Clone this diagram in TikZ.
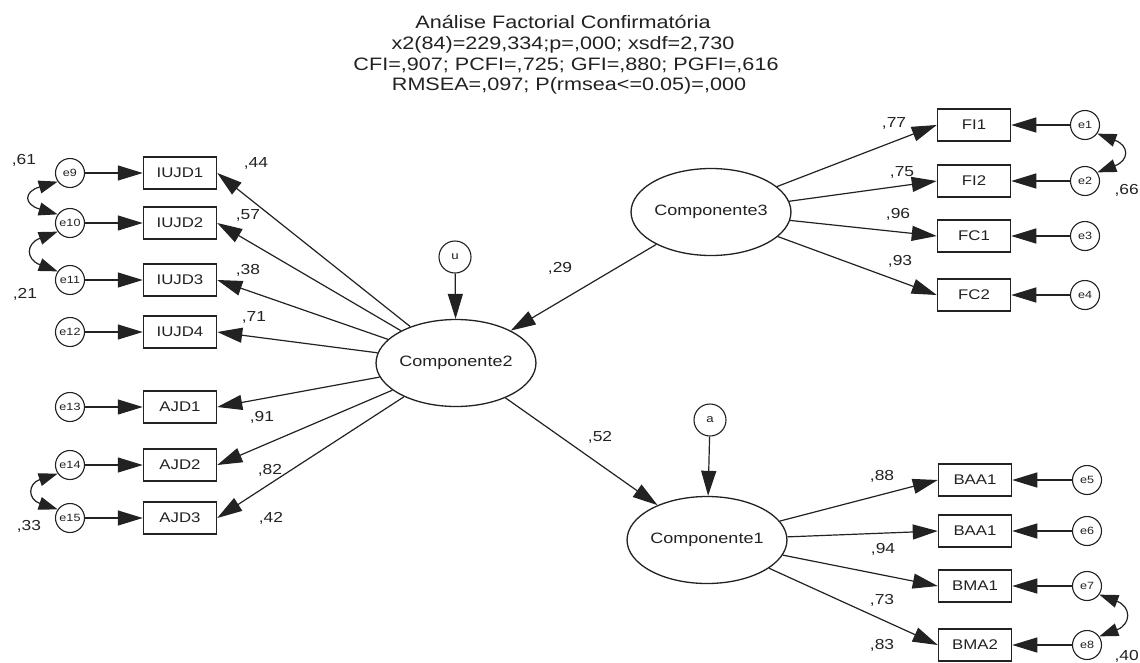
\documentclass[tikz,border=0pt]{standalone}
\usepackage{fontspec}
\setmainfont{Liberation Sans}
\usetikzlibrary{arrows.meta,shapes.geometric}
\newcommand{\tx}[1]{\scalebox{1.2}[1]{#1}}
\definecolor{ink}{HTML}{222222}
\tikzset{
  arr/.style={-{Triangle[length=25pt,width=15pt]}, line width=1.2pt, draw=ink},
  cov/.style={{Triangle[length=19pt,width=13pt]}-{Triangle[length=19pt,width=13pt]}, line width=1.2pt, draw=ink},
  obs/.style={draw=ink, line width=1.5pt, minimum width=73pt, minimum height=32pt, inner sep=0pt, text=ink, font=\fontsize{14}{16}\selectfont},
  err/.style={circle, draw=ink, line width=1.1pt, minimum size=29pt, inner sep=0pt, text=ink, font=\fontsize{10.5}{12}\selectfont},
  dis/.style={circle, draw=ink, line width=1.1pt, minimum size=32pt, inner sep=0pt, text=ink, font=\fontsize{11}{12}\selectfont},
  lat/.style={ellipse, draw=ink, line width=1.3pt, minimum width=150pt, minimum height=87pt, inner sep=0pt, text=ink, font=\fontsize{15}{17}\selectfont},
  lab/.style={inner sep=0pt, text=ink, font=\fontsize{14.5}{16}\selectfont},
  ttl/.style={anchor=base, inner sep=0pt, text=ink, font=\fontsize{18}{20}\selectfont}
}
\begin{document}
\begin{tikzpicture}[x=1pt,y=-1pt]
\useasboundingbox (0,0) rectangle (1140,662);
\fill[white] (0,0) rectangle (1140,662);

% title
\node[ttl] (t1) at (563,28) {\tx{Análise Factorial Confirmatória}};
\node[ttl] (t2) at (563,49) {\tx{x2(84)=229,334;p=,000; xsdf=2,730}};
\node[ttl] (t3) at (566,70) {\tx{CFI=,907; PCFI=,725; GFI=,880; PGFI=,616}};
\node[ttl] (t4) at (569,90) {\tx{RMSEA=,097; P(rmsea<=0.05)=,000}};

% latent variables
\node[lat] (C2) at (456,363) {\tx{Componente2}};
\node[lat] (C3) at (711,212) {\tx{Componente3}};
\node[lat] (C1) at (707,540) {\tx{Componente1}};
\node[dis] (u) at (455,257) {\tx{u}};
\node[dis] (a) at (710,420) {\tx{a}};

% left indicators
\node[obs] (IUJD1) at (180,173) {\tx{IUJD1}};
\node[obs] (IUJD2) at (180,223) {\tx{IUJD2}};
\node[obs] (IUJD3) at (180,280) {\tx{IUJD3}};
\node[obs] (IUJD4) at (180,332) {\tx{IUJD4}};
\node[obs] (AJD1) at (180,407) {\tx{AJD1}};
\node[obs] (AJD2) at (180,465) {\tx{AJD2}};
\node[obs] (AJD3) at (180,518) {\tx{AJD3}};
\node[err] (e9) at (70,173) {\tx{e9}};
\node[err] (e10) at (70,223) {\tx{e10}};
\node[err] (e11) at (70,280) {\tx{e11}};
\node[err] (e12) at (70,332) {\tx{e12}};
\node[err] (e13) at (70,407) {\tx{e13}};
\node[err] (e14) at (70,465) {\tx{e14}};
\node[err] (e15) at (70,518) {\tx{e15}};

% right top indicators
\node[obs] (FI1) at (974,125) {\tx{FI1}};
\node[obs] (FI2) at (974,181) {\tx{FI2}};
\node[obs] (FC1) at (974,236) {\tx{FC1}};
\node[obs] (FC2) at (974,295) {\tx{FC2}};
\node[err] (e1) at (1085,125) {\tx{e1}};
\node[err] (e2) at (1085,181) {\tx{e2}};
\node[err] (e3) at (1085,236) {\tx{e3}};
\node[err] (e4) at (1085,295) {\tx{e4}};

% right bottom indicators
\node[obs] (BAA1) at (975,480) {\tx{BAA1}};
\node[obs] (BAA1b) at (975,531) {\tx{BAA1}};
\node[obs] (BMA1) at (975,586) {\tx{BMA1}};
\node[obs] (BMA2) at (975,645) {\tx{BMA2}};
\node[err] (e5) at (1087,480) {\tx{e5}};
\node[err] (e6) at (1087,531) {\tx{e6}};
\node[err] (e7) at (1087,586) {\tx{e7}};
\node[err] (e8) at (1087,645) {\tx{e8}};

% error arrows
\foreach \e/\b in {e9/IUJD1,e10/IUJD2,e11/IUJD3,e12/IUJD4,e13/AJD1,e14/AJD2,e15/AJD3,
                   e1/FI1,e2/FI2,e3/FC1,e4/FC2,e5/BAA1,e6/BAA1b,e7/BMA1,e8/BMA2}
  \draw[arr] (\e) -- (\b);

% loadings
\foreach \b in {IUJD1,IUJD2,IUJD3,IUJD4,AJD1,AJD2,AJD3}
  \draw[arr] (C2) -- (\b.east);
\foreach \b in {FI1,FI2,FC1,FC2}
  \draw[arr] (C3) -- (\b.west);
\foreach \b in {BAA1,BAA1b,BMA1,BMA2}
  \draw[arr] (C1) -- (\b.west);

% structural
\draw[arr] (C3) -- (C2);
\draw[arr] (C2) -- (C1);
\draw[arr] (u) -- (C2);
\draw[arr] (a) -- (C1);

% covariances
\draw[cov] (e9.215) .. controls +(-34,10) and +(-34,-10) .. (e10.145);
\draw[cov] (e10.215) .. controls +(-32,12) and +(-32,-12) .. (e11.145);
\draw[cov] (e14.215) .. controls +(-30,10) and +(-30,-10) .. (e15.145);
\draw[cov] (e1.325) .. controls +(32,12) and +(32,-12) .. (e2.35);
\draw[cov] (e7.325) .. controls +(32,12) and +(32,-12) .. (e8.35);

% labels
\node[lab] (l61) at (24,160) {\tx{,61}};
\node[lab] (l21) at (25,294) {\tx{,21}};
\node[lab] (l33) at (29,526) {\tx{,33}};
\node[lab] (l44) at (256,163) {\tx{,44}};
\node[lab] (l57) at (248,215) {\tx{,57}};
\node[lab] (l38) at (248,270) {\tx{,38}};
\node[lab] (l71) at (254,317) {\tx{,71}};
\node[lab] (l91) at (262,417) {\tx{,91}};
\node[lab] (l82) at (270,470) {\tx{,82}};
\node[lab] (l42) at (271,518) {\tx{,42}};
\node[lab] (l29) at (560,268) {\tx{,29}};
\node[lab] (l52) at (600,437) {\tx{,52}};
\node[lab] (l77) at (894,123) {\tx{,77}};
\node[lab] (l75) at (902,172) {\tx{,75}};
\node[lab] (l96) at (898,214) {\tx{,96}};
\node[lab] (l93) at (900,261) {\tx{,93}};
\node[lab,anchor=east] (l66) at (1139,190) {\tx{,66}};
\node[lab] (l88) at (882,476) {\tx{,88}};
\node[lab] (l94) at (883,549) {\tx{,94}};
\node[lab] (l73) at (882,600) {\tx{,73}};
\node[lab] (l83) at (882,645) {\tx{,83}};
\node[lab,anchor=east] (l40) at (1139,656) {\tx{,40}};
\end{tikzpicture}
\end{document}
